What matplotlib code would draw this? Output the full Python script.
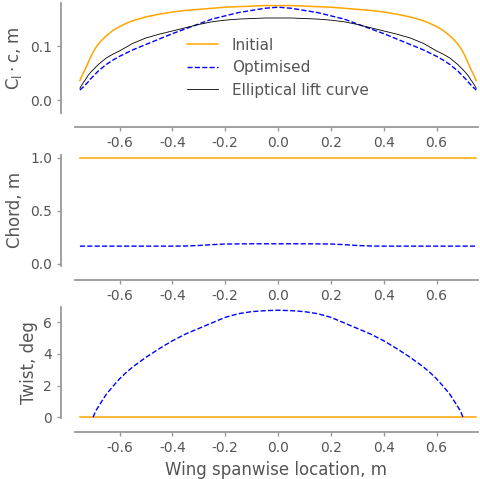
import numpy as np
import matplotlib
matplotlib.use("Agg")
import matplotlib.pyplot as plt

# spanwise stations (m) for the lift distributions
span = [-0.75, -0.745, -0.74, -0.735, -0.73, -0.72, -0.71, -0.70, -0.69, -0.68,
        -0.665, -0.65, -0.625, -0.60, -0.575, -0.55, -0.50, -0.45, -0.40, -0.35,
        -0.30, -0.25, -0.20, -0.15, -0.10, -0.05, 0.0,
        0.05, 0.10, 0.15, 0.20, 0.25, 0.30, 0.35, 0.40, 0.45, 0.50,
        0.55, 0.575, 0.60, 0.625, 0.65, 0.665, 0.68, 0.69, 0.70, 0.71,
        0.72, 0.73, 0.735, 0.74, 0.745, 0.75]

lift_initial = [0.036, 0.042, 0.047, 0.052, 0.057, 0.068, 0.079, 0.089, 0.097, 0.104,
                0.112, 0.119, 0.129, 0.136, 0.142, 0.147, 0.154, 0.159, 0.163, 0.166,
                0.168, 0.170, 0.172, 0.173, 0.174, 0.175, 0.175,
                0.175, 0.174, 0.173, 0.172, 0.170, 0.168, 0.166, 0.163, 0.159, 0.154,
                0.147, 0.142, 0.136, 0.129, 0.119, 0.112, 0.104, 0.097, 0.089, 0.079,
                0.068, 0.057, 0.052, 0.047, 0.042, 0.036]

lift_optimised = [0.0185, 0.021, 0.023, 0.025, 0.028, 0.033, 0.039, 0.044, 0.049, 0.054,
                  0.060, 0.066, 0.074, 0.081, 0.087, 0.093, 0.103, 0.113, 0.123, 0.132,
                  0.141, 0.150, 0.156, 0.162, 0.166, 0.170, 0.172,
                  0.170, 0.166, 0.162, 0.156, 0.150, 0.141, 0.132, 0.123, 0.113, 0.103,
                  0.093, 0.087, 0.081, 0.074, 0.066, 0.060, 0.054, 0.049, 0.044, 0.039,
                  0.033, 0.028, 0.025, 0.023, 0.021, 0.0185]

lift_elliptical = [0.022, 0.026, 0.030, 0.034, 0.037, 0.045, 0.051, 0.056, 0.061, 0.066,
                   0.072, 0.078, 0.085, 0.091, 0.098, 0.105, 0.115, 0.122, 0.128, 0.134,
                   0.140, 0.145, 0.148, 0.150, 0.151, 0.152, 0.152,
                   0.152, 0.151, 0.150, 0.148, 0.145, 0.140, 0.134, 0.128, 0.122, 0.115,
                   0.105, 0.098, 0.091, 0.085, 0.078, 0.072, 0.066, 0.061, 0.056, 0.051,
                   0.045, 0.037, 0.034, 0.030, 0.026, 0.022]

# chord distribution
chord_span = [-0.75, -0.6, -0.5, -0.4, -0.35, -0.3, -0.25, -0.2, -0.1, 0.0,
              0.1, 0.2, 0.25, 0.3, 0.35, 0.4, 0.5, 0.6, 0.75]
chord_initial = [1.0] * len(chord_span)
chord_optimised = [0.166, 0.166, 0.166, 0.166, 0.167, 0.172, 0.180, 0.186, 0.188, 0.188,
                   0.188, 0.186, 0.180, 0.172, 0.167, 0.166, 0.166, 0.166, 0.166]

# twist distribution
twist_span = [-0.70, -0.69, -0.675, -0.65, -0.625, -0.60, -0.575, -0.55, -0.50, -0.45,
              -0.40, -0.35, -0.30, -0.25, -0.20, -0.15, -0.10, -0.05, 0.0,
              0.05, 0.10, 0.15, 0.20, 0.25, 0.30, 0.35, 0.40, 0.45, 0.50,
              0.55, 0.575, 0.60, 0.625, 0.65, 0.675, 0.69, 0.70]
twist_optimised = [0.0, 0.40, 0.80, 1.45, 1.95, 2.42, 2.82, 3.17, 3.78, 4.32,
                   4.82, 5.25, 5.60, 5.95, 6.30, 6.53, 6.66, 6.72, 6.75,
                   6.72, 6.66, 6.53, 6.30, 5.95, 5.60, 5.25, 4.82, 4.32, 3.78,
                   3.17, 2.82, 2.42, 1.95, 1.45, 0.80, 0.40, 0.0]
twist_initial_span = [-0.75, 0.75]
twist_initial = [0.0, 0.0]

text_grey = "#555555"
spine_grey = "#999999"
plt.rcParams.update({
    "font.family": "DejaVu Sans",
    "text.color": text_grey,
    "axes.labelcolor": text_grey,
    "xtick.color": text_grey,
    "ytick.color": text_grey,
    "mathtext.default": "regular",
    "axes.unicode_minus": False,
})


def adjust_spines(ax):
    for side in ("top", "right"):
        ax.spines[side].set_visible(False)
    for side in ("left", "bottom"):
        ax.spines[side].set_position(("outward", 10))
        ax.spines[side].set_color(spine_grey)
        ax.spines[side].set_linewidth(1.3)
    ax.tick_params(axis="both", labelsize=10, length=3, width=1, color=spine_grey)


fig = plt.figure(figsize=(4.8, 4.79), dpi=100)
left, width = 0.156, 0.840
ax1 = fig.add_axes([left, 0.764, width, 0.230])
ax2 = fig.add_axes([left, 0.445, width, 0.232])
ax3 = fig.add_axes([left, 0.127, width, 0.232])

ax1.plot(span, lift_initial, color="orange", lw=1.1, label="Initial")
ax1.plot(span, lift_optimised, color="blue", lw=1.0, ls="--", label="Optimised")
ax1.plot(span, lift_elliptical, color="black", lw=0.6, label="Elliptical lift curve")
ax1.set_ylim(-0.024, 0.18)
ax1.set_yticks([0.0, 0.1])
ax1.set_ylabel(r"$C_l \cdot c$, m", fontsize=12)
leg = ax1.legend(loc="upper left", bbox_to_anchor=(0.245, 0.81), frameon=False,
                 fontsize=11, handlelength=2.0, handletextpad=0.9, labelspacing=0.5)
for t in leg.get_texts():
    t.set_color(text_grey)

ax2.plot(chord_span, chord_initial, color="orange", lw=1.1)
ax2.plot(chord_span, chord_optimised, color="blue", lw=1.0, ls="--")
ax2.set_ylim(-0.02, 1.028)
ax2.set_yticks([0.0, 0.5, 1.0])
ax2.set_ylabel("Chord, m", fontsize=12)

ax3.plot(twist_initial_span, twist_initial, color="orange", lw=1.1)
ax3.plot(twist_span, twist_optimised, color="blue", lw=1.0, ls="--")
ax3.set_ylim(-0.06, 6.95)
ax3.set_yticks([0, 2, 4, 6])
ax3.set_ylabel("Twist, deg", fontsize=12)
ax3.set_xlabel("Wing spanwise location, m", fontsize=12)

for ax in (ax1, ax2, ax3):
    ax.set_xlim(-0.769, 0.757)
    ax.set_xticks([-0.6, -0.4, -0.2, 0.0, 0.2, 0.4, 0.6])
    adjust_spines(ax)

fig.align_ylabels([ax1, ax2])
fig.savefig("out.png", dpi=100)
